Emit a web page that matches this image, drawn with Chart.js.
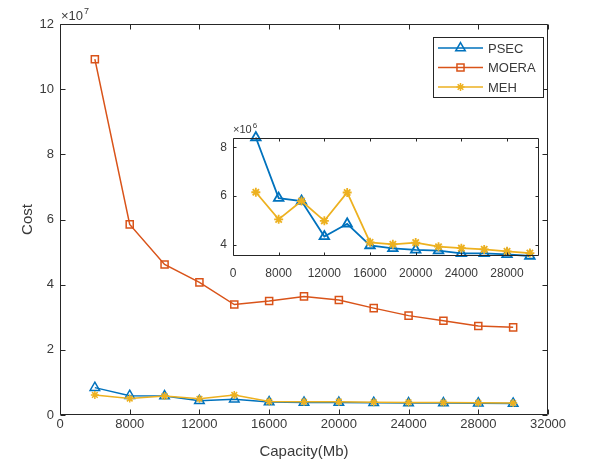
<!DOCTYPE html>
<html>
<head>
<meta charset="utf-8">
<script src="https://cdn.jsdelivr.net/npm/chart.js@4/dist/chart.umd.min.js"></script>
<style>
  html, body { margin: 0; padding: 0; background: #fff; }
  #wrap { position: relative; width: 589px; height: 469px; }
  #main { position: absolute; left: 0; top: 0; }
  #inset { position: absolute; left: 200px; top: 115px; }
</style>
</head>
<body>
<div id="wrap">
  <canvas id="main" width="589" height="469"></canvas>
  <canvas id="inset" width="350" height="170"></canvas>
</div>
<script>
// data
const capacity = [6000, 8000, 10000, 12000, 14000, 16000, 18000, 20000, 22000, 24000, 26000, 28000, 30000];
const psec  = [8.40e6, 5.92e6, 5.80e6, 4.35e6, 4.87e6, 3.98e6, 3.86e6, 3.80e6, 3.77e6, 3.66e6, 3.66e6, 3.62e6, 3.55e6];
const moera = [10.92e7, 5.85e7, 4.62e7, 4.07e7, 3.39e7, 3.50e7, 3.64e7, 3.53e7, 3.28e7, 3.05e7, 2.89e7, 2.73e7, 2.69e7];
const meh   = [6.16e6, 5.05e6, 5.80e6, 4.99e6, 6.15e6, 4.11e6, 4.03e6, 4.10e6, 3.93e6, 3.87e6, 3.82e6, 3.74e6, 3.67e6];

const mainXTicks  = [4000, 8000, 12000, 16000, 20000, 24000, 28000, 32000];
const mainXLabels = ['0', '8000', '12000', '16000', '20000', '24000', '28000', '32000'];
const mainYTicks  = [0, 2e7, 4e7, 6e7, 8e7, 10e7, 12e7];
const mainYLabels = ['0', '2', '4', '6', '8', '10', '12'];

const insetXTicks  = [4000, 8000, 12000, 16000, 20000, 24000, 28000];
const insetXLabels = ['0', '8000', '12000', '16000', '20000', '24000', '28000'];
const insetYTicks  = [4e6, 6e6, 8e6];
const insetYLabels = ['4', '6', '8'];

const BLUE = '#0072BD', ORANGE = '#D95319', YELLOW = '#EDB120';
const AXIS = '#262626', TEXT = '#3a3a3a';
const FONT = '"Liberation Sans", Arial, Helvetica, sans-serif';

Chart.defaults.font.family = FONT;
Chart.defaults.color = TEXT;

function series(label, data, color, style, radius, width, order) {
    return {
        label: label,
        data: capacity.map((c, i) => ({ x: c, y: data[i] })),
        borderColor: color,
        backgroundColor: 'transparent',
        borderWidth: width,
        pointStyle: style,
        pointRadius: radius,
        pointBorderWidth: width,
        pointBorderColor: color,
        pointBackgroundColor: 'transparent',
        tension: 0,
        clip: false,
        order: order
    };
}

// box, inward ticks and the exponent label, like a matlab axes
const frame = {
    id: 'frame',
    afterDatasetsDraw(chart, args, opts) {
        const { ctx, chartArea: a, scales: { x, y } } = chart;
        const l = Math.round(a.left) + 0.5, r = Math.round(a.right) - 0.5;
        const t = Math.round(a.top) + 0.5, b = Math.round(a.bottom) - 0.5;
        ctx.save();
        ctx.strokeStyle = AXIS;
        ctx.lineWidth = 1;
        ctx.beginPath();
        ctx.rect(l, t, r - l, b - t);
        x.ticks.forEach(tk => {
            const px = Math.round(x.getPixelForValue(tk.value)) + 0.5;
            ctx.moveTo(px, b); ctx.lineTo(px, b - opts.len);
            ctx.moveTo(px, t); ctx.lineTo(px, t + opts.len);
        });
        y.ticks.forEach(tk => {
            const py = Math.round(y.getPixelForValue(tk.value)) + 0.5;
            ctx.moveTo(l, py); ctx.lineTo(l + opts.len, py);
            ctx.moveTo(r, py); ctx.lineTo(r - opts.len, py);
        });
        ctx.stroke();

        // exponent
        ctx.fillStyle = TEXT;
        ctx.textBaseline = 'alphabetic';
        ctx.textAlign = 'left';
        ctx.font = opts.expSize + 'px ' + FONT;
        const base = '\u00d710';
        ctx.fillText(base, a.left + opts.expDx, a.top - opts.expDy);
        const w = ctx.measureText(base).width;
        ctx.font = Math.round(opts.expSize * 0.72) + 'px ' + FONT;
        ctx.fillText(opts.exp, a.left + opts.expDx + w + 1, a.top - opts.expDy - opts.expSize * 0.45);
        ctx.restore();
    }
};

// boxed legend in the top right corner
const boxLegend = {
    id: 'boxLegend',
    afterDraw(chart, args, opts) {
        if (!opts.show) return;
        const ctx = chart.ctx;
        const bx = 433.5, by = 37.5, bw = 110, bh = 60;
        ctx.save();
        ctx.fillStyle = '#fff';
        ctx.fillRect(bx, by, bw, bh);
        ctx.strokeStyle = AXIS;
        ctx.lineWidth = 1;
        ctx.strokeRect(bx, by, bw, bh);
        ctx.font = '13px ' + FONT;
        ctx.textBaseline = 'middle';
        ctx.textAlign = 'left';
        chart.data.datasets.forEach((ds, i) => {
            const cy = 48 + i * 19.5;
            ctx.strokeStyle = ds.borderColor;
            ctx.lineWidth = ds.borderWidth;
            ctx.beginPath();
            ctx.moveTo(438, cy); ctx.lineTo(483, cy);
            ctx.stroke();
            ctx.fillStyle = 'rgba(0,0,0,0)';
            Chart.helpers.drawPoint(ctx, {
                pointStyle: ds.pointStyle, radius: ds.pointRadius, borderWidth: ds.pointBorderWidth
            }, 460.5, cy);
            ctx.fillStyle = TEXT;
            ctx.fillText(ds.label, 488, cy + 1);
        });
        ctx.restore();
    }
};

const noGrid = { display: false, drawTicks: false, tickLength: 0 };

new Chart(document.getElementById('main'), {
    type: 'line',
    data: {
        datasets: [
            series('PSEC', psec, BLUE, 'triangle', 5.5, 1.5, 2),
            series('MOERA', moera, ORANGE, 'rect', 5, 1.5, 1),
            series('MEH', meh, YELLOW, 'star', 4, 1.5, 0)
        ]
    },
    options: {
        responsive: false,
        animation: false,
        devicePixelRatio: 1,
        layout: { padding: { top: 24, right: 41, left: 0, bottom: 0 } },
        plugins: {
            legend: { display: false },
            tooltip: { enabled: false },
            frame: { len: 5, exp: '7', expSize: 13, expDx: 1, expDy: 4 },
            boxLegend: { show: true }
        },
        scales: {
            x: {
                type: 'linear', min: 4000, max: 32000,
                afterBuildTicks: s => { s.ticks = mainXTicks.map(v => ({ value: v })); },
                afterFit: s => { s.height = 54; },
                grid: noGrid, border: { display: false },
                ticks: { padding: 2, maxRotation: 0, autoSkip: false, font: { size: 13 }, color: TEXT,
                         callback: (v, i) => mainXLabels[i] },
                title: { display: true, text: 'Capacity(Mb)', font: { size: 15 }, color: TEXT,
                         padding: { top: 0, bottom: 8 } }
            },
            y: {
                type: 'linear', min: 0, max: 12e7,
                afterBuildTicks: s => { s.ticks = mainYTicks.map(v => ({ value: v })); },
                afterFit: s => { s.width = 60; },
                grid: noGrid, border: { display: false },
                ticks: { padding: 6, autoSkip: false, font: { size: 13 }, color: TEXT,
                         callback: (v, i) => mainYLabels[i] },
                title: { display: true, text: 'Cost', font: { size: 15 }, color: TEXT,
                         padding: { top: 19, bottom: 0 } }
            }
        }
    },
    plugins: [frame, boxLegend]
});

new Chart(document.getElementById('inset'), {
    type: 'line',
    data: {
        datasets: [
            series('PSEC', psec, BLUE, 'triangle', 5.5, 1.8, 1),
            series('MEH', meh, YELLOW, 'star', 4.5, 1.8, 0)
        ]
    },
    options: {
        responsive: false,
        animation: false,
        devicePixelRatio: 1,
        layout: { padding: { top: 23, right: 11, left: 0, bottom: 0 } },
        plugins: {
            legend: { display: false },
            tooltip: { enabled: false },
            frame: { len: 3, exp: '6', expSize: 11, expDx: 0, expDy: 5 },
            boxLegend: { show: false }
        },
        scales: {
            x: {
                type: 'linear', min: 4000, max: 30800,
                afterBuildTicks: s => { s.ticks = insetXTicks.map(v => ({ value: v })); },
                afterFit: s => { s.height = 29; },
                grid: noGrid, border: { display: false },
                ticks: { padding: 10, maxRotation: 0, autoSkip: false, font: { size: 12 }, color: TEXT,
                         callback: (v, i) => insetXLabels[i] }
            },
            y: {
                type: 'linear', min: 3.55e6, max: 8.38e6,
                afterBuildTicks: s => { s.ticks = insetYTicks.map(v => ({ value: v })); },
                afterFit: s => { s.width = 33; },
                grid: noGrid, border: { display: false },
                ticks: { padding: 6, autoSkip: false, font: { size: 12 }, color: TEXT,
                         callback: (v, i) => insetYLabels[i] }
            }
        }
    },
    plugins: [frame, boxLegend]
});
</script>
</body>
</html>
